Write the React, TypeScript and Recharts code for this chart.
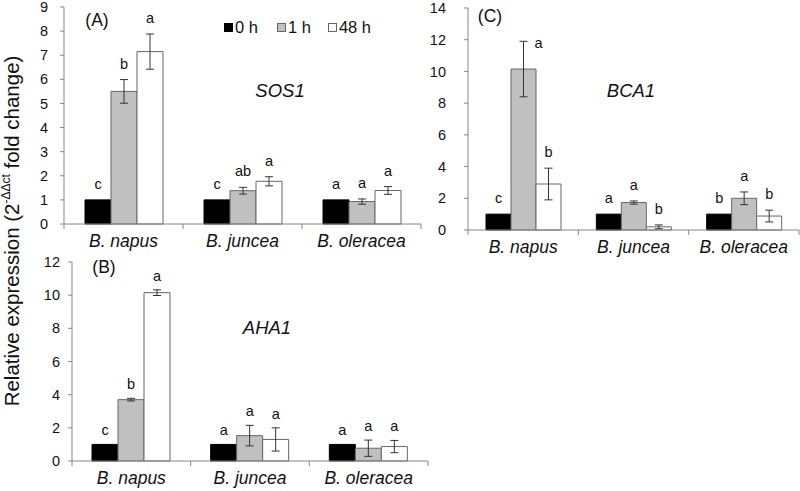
import React from "react";
import { BarChart, Bar, XAxis, YAxis, ErrorBar, LabelList } from "recharts";

// categories
const species = ["B. napus", "B. juncea", "B. oleracea"];

// (A) SOS1
const sos1H0 = [1, 1, 1];
const sos1H1 = [5.5, 1.38, 0.93];
const sos1H48 = [7.15, 1.77, 1.39];
const sos1H1Err = [0.49, 0.14, 0.11];
const sos1H48Err = [0.73, 0.19, 0.16];
const sos1L0 = ["c", "c", "a"];
const sos1L1 = ["b", "ab", "a"];
const sos1L48 = ["a", "a", "a"];

// (B) AHA1
const aha1H0 = [1, 1, 1];
const aha1H1 = [3.7, 1.53, 0.77];
const aha1H48 = [10.15, 1.3, 0.87];
const aha1H1Err = [0.08, 0.62, 0.49];
const aha1H48Err = [0.17, 0.7, 0.37];
const aha1L0 = ["c", "a", "a"];
const aha1L1 = ["b", "a", "a"];
const aha1L48 = ["a", "a", "a"];

// (C) BCA1
const bca1H0 = [1, 1, 1];
const bca1H1 = [10.15, 1.73, 2.0];
const bca1H48 = [2.9, 0.2, 0.88];
const bca1H1Err = [1.75, 0.1, 0.4];
const bca1H48Err = [1.0, 0.12, 0.37];
const bca1L0 = ["c", "a", "b"];
const bca1L1 = ["a", "a", "a"];
const bca1L48 = ["b", "b", "b"];

const sos1Ticks = [0, 1, 2, 3, 4, 5, 6, 7, 8, 9];
const aha1Ticks = [0, 2, 4, 6, 8, 10, 12];
const bca1Ticks = [0, 2, 4, 6, 8, 10, 12, 14];

const FONT = "'Liberation Sans', Arial, sans-serif";
const AXIS = "#868686";
const GRAY = "#c0c0c0";
const EDGE = "#666666";

const buildRows = (h0: number[], h1: number[], h48: number[], e1: number[], e48: number[], l0: string[], l1: string[], l48: string[]) =>
  species.map((name, i) => ({
    name,
    h0: h0[i],
    h1: h1[i],
    h48: h48[i],
    e1: e1[i],
    e48: e48[i],
    l0: l0[i],
    l1: l1[i],
    l48: l48[i],
  }));

// letter sits above the error bar top; px per unit taken from the drawn bar
const letterContent = (vals: number[], errs: number[] | null, gap: number, side?: number) => (p: any) => {
  const vb = p.viewBox ?? p;
  const i = p.index ?? 0;
  const ppu = vb.height / vals[i];
  const top = vb.y - (errs ? errs[i] : 0) * ppu;
  let x = vb.x + vb.width / 2;
  let y = top - gap;
  if (side !== undefined && side === i) {
    x += 15;
    y = top + 7;
  }
  return (
    <text x={x} y={y} textAnchor="middle" fontSize={14.5} fontFamily={FONT} fill="#111">
      {p.value}
    </text>
  );
};

// category label plus the boundary tick marks (band edges)
const CatTick = (props: any) => {
  const { x, y, payload, index } = props;
  const half = payload?.offset ?? 0;
  return (
    <g>
      {index === 0 && <line x1={x - half} x2={x - half} y1={y} y2={y + 5} stroke={AXIS} />}
      <line x1={x + half} x2={x + half} y1={y} y2={y + 5} stroke={AXIS} />
      <text x={x} y={y} dy={23} textAnchor="middle" fontSize={17.5} fontStyle="italic" fontFamily={FONT} fill="#111">
        {payload.value}
      </text>
    </g>
  );
};

interface PanelProps {
  rows: any[];
  h0: number[];
  h1: number[];
  h48: number[];
  e1: number[];
  e48: number[];
  max: number;
  ticks: number[];
  width: number;
  height: number;
  margin: { top: number; right: number; left: number; bottom: number };
  yWidth: number;
  tickMargin: number;
  barSize: number;
  gap: number;
  side1?: number;
}

const Panel: React.FC<PanelProps> = (p) => (
  <BarChart width={p.width} height={p.height} data={p.rows} margin={p.margin} barGap={0} barSize={p.barSize}>
    <XAxis
      dataKey="name"
      height={30}
      axisLine={{ stroke: AXIS }}
      tickLine={false}
      tickSize={0}
      tickMargin={0}
      tick={<CatTick />}
      interval={0}
    />
    <YAxis
      domain={[0, p.max]}
      ticks={p.ticks}
      interval={0}
      width={p.yWidth}
      tickSize={4}
      tickMargin={p.tickMargin}
      axisLine={{ stroke: AXIS }}
      tickLine={{ stroke: AXIS }}
      tick={{ fontSize: 14.5, fill: "#111", fontFamily: FONT }}
    />
    <Bar dataKey="h0" fill="#000" stroke="#000" isAnimationActive={false}>
      <LabelList dataKey="l0" content={letterContent(p.h0, null, p.gap)} />
    </Bar>
    <Bar dataKey="h1" fill={GRAY} stroke={EDGE} isAnimationActive={false}>
      <ErrorBar dataKey="e1" width={4} stroke="#333" strokeWidth={1} isAnimationActive={false} />
      <LabelList dataKey="l1" content={letterContent(p.h1, p.e1, p.gap, p.side1)} />
    </Bar>
    <Bar dataKey="h48" fill="#fff" stroke={EDGE} isAnimationActive={false}>
      <ErrorBar dataKey="e48" width={4} stroke="#333" strokeWidth={1} isAnimationActive={false} />
      <LabelList dataKey="l48" content={letterContent(p.h48, p.e48, p.gap)} />
    </Bar>
  </BarChart>
);

const Note: React.FC<{ x: number; y: number; italic?: boolean; size?: number; children: React.ReactNode }> = ({ x, y, italic, size = 17.5, children }) => (
  <div
    style={{
      position: "absolute",
      left: x,
      top: y,
      transform: "translate(-50%, -50%)",
      fontFamily: FONT,
      fontSize: size,
      fontStyle: italic ? "italic" : "normal",
      color: "#111",
      whiteSpace: "nowrap",
    }}
  >
    {children}
  </div>
);

const Swatch: React.FC<{ fill: string; stroke: string }> = ({ fill, stroke }) => (
  <span style={{ display: "inline-block", width: 7, height: 7, background: fill, border: `1px solid ${stroke}`, marginRight: 2 }} />
);

export default function App() {
  const sos1Rows = buildRows(sos1H0, sos1H1, sos1H48, sos1H1Err, sos1H48Err, sos1L0, sos1L1, sos1L48);
  const aha1Rows = buildRows(aha1H0, aha1H1, aha1H48, aha1H1Err, aha1H48Err, aha1L0, aha1L1, aha1L48);
  const bca1Rows = buildRows(bca1H0, bca1H1, bca1H48, bca1H1Err, bca1H48Err, bca1L0, bca1L1, bca1L48);

  return (
    <div style={{ position: "absolute", left: 0, top: 0, width: 800, height: 491, background: "#fff", overflow: "hidden" }}>
      <div style={{ position: "absolute", left: 0, top: 0 }}>
        <Panel rows={sos1Rows} h0={sos1H0} h1={sos1H1} h48={sos1H48} e1={sos1H1Err} e48={sos1H48Err}
          max={9} ticks={sos1Ticks} width={430} height={260}
          margin={{ top: 7, right: 9, left: 0, bottom: 6 }} yWidth={64} tickMargin={12} barSize={26} gap={11} />
      </div>
      <div style={{ position: "absolute", left: 0, top: 250 }}>
        <Panel rows={aha1Rows} h0={aha1H0} h1={aha1H1} h48={aha1H48} e1={aha1H1Err} e48={aha1H48Err}
          max={12} ticks={aha1Ticks} width={440} height={241}
          margin={{ top: 12, right: 12, left: 0, bottom: 0 }} yWidth={72} tickMargin={8} barSize={26} gap={9} />
      </div>
      <div style={{ position: "absolute", left: 420, top: 0 }}>
        <Panel rows={bca1Rows} h0={bca1H0} h1={bca1H1} h48={bca1H48} e1={bca1H1Err} e48={bca1H48Err}
          max={14} ticks={bca1Ticks} width={380} height={260}
          margin={{ top: 8, right: 1, left: 0, bottom: 0 }} yWidth={48} tickMargin={18} barSize={25} gap={11} side1={0} />
      </div>

      <Note x={97} y={20}>(A)</Note>
      <Note x={104} y={267}>(B)</Note>
      <Note x={490} y={16}>(C)</Note>
      <Note x={280} y={91} italic size={18.5}>SOS1</Note>
      <Note x={267} y={328} italic size={18.5}>AHA1</Note>
      <Note x={631} y={91} italic size={18.5}>BCA1</Note>

      <div style={{ position: "absolute", left: 224, top: 18, display: "flex", alignItems: "center", fontFamily: FONT, fontSize: 16.5, color: "#111", lineHeight: "18px" }}>
        <Swatch fill="#000" stroke="#000" />
        <span style={{ marginRight: 19 }}>0 h</span>
        <Swatch fill={GRAY} stroke={EDGE} />
        <span style={{ marginRight: 17 }}>1 h</span>
        <Swatch fill="#fff" stroke={EDGE} />
        <span>48 h</span>
      </div>

      <svg width={40} height={491} style={{ position: "absolute", left: 0, top: 0 }}>
        <text x={0} y={0} transform="translate(19, 231) rotate(-90)" textAnchor="middle" fontFamily={FONT} fontSize={20.5} fill="#111">
          Relative expression (2
          <tspan fontSize={12} dy={-9}>-ΔΔct</tspan>
          <tspan dy={9}> fold change)</tspan>
        </text>
      </svg>
    </div>
  );
}
